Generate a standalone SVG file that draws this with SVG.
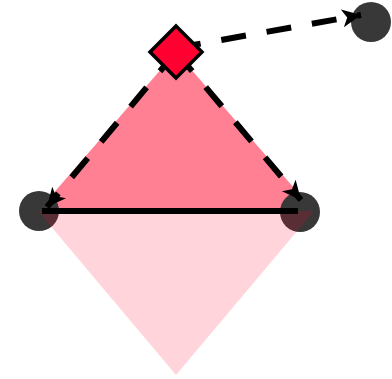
<svg xmlns="http://www.w3.org/2000/svg" width="392" height="379" viewBox="0 0 392 379">
  <style>
    .hub { fill: #383838; }
    .edge { fill: none; stroke: #000; stroke-width: 6; }
    .dash { stroke-dasharray: 25 21; }
  </style>
  <defs>
    <marker id="arrow" markerUnits="userSpaceOnUse" markerWidth="22" markerHeight="20" refX="19" refY="9" orient="auto">
      <path d="M0,0 L19,9 L0,18 L5,9 z" fill="#000"/>
    </marker>
  </defs>
  <g id="upper-area">
    <polygon points="176,52 38,211 314,211" fill="#ff0028" fill-opacity="0.5"/>
  </g>
  <g id="node-left"><circle class="hub" cx="39" cy="211" r="20"/></g>
  <g id="node-right"><circle class="hub" cx="300" cy="212" r="20"/></g>
  <g id="node-top-right"><circle class="hub" cx="371" cy="22" r="20"/></g>
  <g id="lower-area">
    <polygon points="38,211 314,211 176,375" fill="#ff0028" fill-opacity="0.17"/>
  </g>
  <g id="connectors">
    <line class="edge" x1="42" y1="211" x2="298" y2="211"/>
    <line class="edge dash" x1="176" y1="52" x2="47" y2="207" marker-end="url(#arrow)"/>
    <line class="edge dash" x1="176" y1="52" x2="301" y2="200" marker-end="url(#arrow)"/>
    <line class="edge dash" x1="176" y1="48" x2="361" y2="15" marker-end="url(#arrow)"/>
  </g>
  <g id="node-diamond">
    <polygon points="176,26 202,52 176,78 150,52" fill="#ff0030" stroke="#000" stroke-width="3.5" stroke-linejoin="miter"/>
  </g>
</svg>
